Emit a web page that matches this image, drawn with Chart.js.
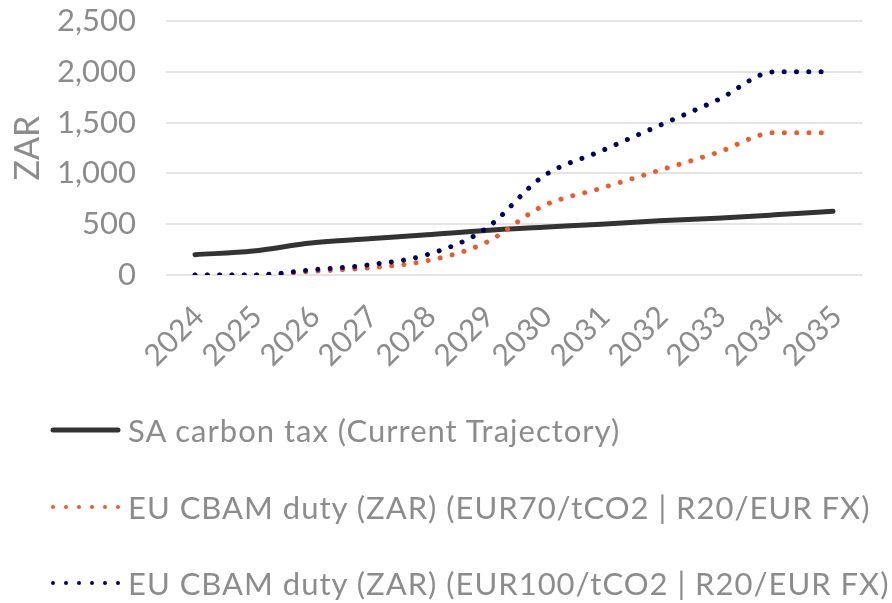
<!DOCTYPE html>
<html>
<head>
<meta charset="utf-8">
<script src="https://cdn.jsdelivr.net/npm/chart.js@4.4.1/dist/chart.umd.min.js"></script>
<style>
  html, body { margin: 0; padding: 0; background: #ffffff; width: 892px; height: 603px; overflow: hidden; }
  #plot { position: absolute; left: 0; top: 0; width: 892px; height: 385px; }
  #legend { position: absolute; left: 0; top: 0; width: 892px; height: 603px; pointer-events: none; }
  .item { position: absolute; left: 50px; height: 40px; display: flex; align-items: center; white-space: nowrap;
          font-family: Lato, "Noto Sans", sans-serif; font-size: 31px; letter-spacing: 1px; color: #8c8c8c; }
  .item svg { width: 72px; height: 12px; margin-right: 6px; flex: none; }
</style>
</head>
<body>
<div id="plot"><canvas id="chart"></canvas></div>
<div id="legend"></div>
<script>
// Categories and series
const years = ['2024', '2025', '2026', '2027', '2028', '2029', '2030', '2031', '2032', '2033', '2034', '2035'];
const saCarbonTax = [200, 236, 315, 356, 395, 438, 470, 500, 533, 559, 592, 628];
const cbamEur70 = [0, 0, 35, 70, 140, 315, 679, 854, 1029, 1204, 1400, 1400];
const cbamEur100 = [0, 0, 50, 100, 200, 450, 970, 1220, 1470, 1720, 2000, 2000];
const seriesNames = [
  'SA carbon tax (Current Trajectory)',
  'EU CBAM duty (ZAR) (EUR70/tCO2 | R20/EUR FX)',
  'EU CBAM duty (ZAR) (EUR100/tCO2 | R20/EUR FX)'
];
const yTicks = [0, 500, 1000, 1500, 2000, 2500];

const textGrey = '#8c8c8c';
const fontFamily = 'Lato, "Noto Sans", sans-serif';

const datasets = [
  { label: seriesNames[0], data: saCarbonTax, borderColor: '#333333', borderWidth: 5, borderDash: [] },
  { label: seriesNames[1], data: cbamEur70, borderColor: '#f05a28', borderWidth: 5, borderDash: [0.01, 12.3] },
  { label: seriesNames[2], data: cbamEur100, borderColor: '#000066', borderWidth: 5, borderDash: [0.01, 12.3] }
].map(d => Object.assign(d, {
  fill: false, pointRadius: 0, pointHoverRadius: 0,
  cubicInterpolationMode: 'monotone',
  borderCapStyle: 'round', borderJoinStyle: 'round'
}));
// draw the solid line beneath the dotted ones
datasets[0].order = 3; datasets[1].order = 2; datasets[2].order = 1;

const chart = new Chart(document.getElementById('chart'), {
  type: 'line',
  data: { labels: years, datasets },
  options: {
    responsive: true,
    maintainAspectRatio: false,
    animation: false,
    layout: { padding: { top: 21, right: 30, bottom: 0, left: 0 } },
    plugins: { legend: { display: false }, tooltip: { enabled: false } },
    scales: {
      x: {
        offset: true,
        grid: { display: false, drawTicks: false },
        border: { display: false },
        ticks: {
          color: textGrey, font: { family: fontFamily, size: 30 },
          minRotation: 45, maxRotation: 45, autoSkip: false, padding: 24, labelOffset: 4
        },
        afterFit: s => { s.height = 110; }
      },
      y: {
        min: 0, max: 2500,
        afterBuildTicks: s => { s.ticks = yTicks.map(v => ({ value: v })); },
        grid: { color: '#e4e4e4', lineWidth: 2, drawTicks: true, tickLength: 28, tickColor: 'rgba(0,0,0,0)' },
        border: { display: false },
        ticks: {
          color: textGrey, font: { family: fontFamily, size: 31 }, padding: 2,
          callback: v => v.toLocaleString('en-US')
        },
        title: {
          display: true, text: 'ZAR', color: textGrey,
          font: { family: fontFamily, size: 34 }, padding: { top: 8, bottom: 0 }
        },
        afterFit: s => { s.width = 166; }
      }
    }
  }
});

// Legend built from the chart's datasets, one entry per row
const rowCentres = [430, 507, 583];
const legend = document.getElementById('legend');
chart.data.datasets.forEach((ds, i) => {
  const item = document.createElement('div');
  item.className = 'item';
  item.style.top = (rowCentres[i] - 20) + 'px';
  const dotted = ds.borderDash && ds.borderDash.length;
  const ns = 'http://www.w3.org/2000/svg';
  const svg = document.createElementNS(ns, 'svg');
  svg.setAttribute('viewBox', '0 0 72 12');
  const line = document.createElementNS(ns, 'line');
  line.setAttribute('x1', 3);
  line.setAttribute('x2', dotted ? 69 : 68);
  line.setAttribute('y1', 6); line.setAttribute('y2', 6);
  line.setAttribute('stroke', ds.borderColor);
  line.setAttribute('stroke-width', dotted ? 4 : 5);
  line.setAttribute('stroke-linecap', 'round');
  if (dotted) line.setAttribute('stroke-dasharray', '0 13');
  svg.appendChild(line);
  item.appendChild(svg);
  const span = document.createElement('span');
  span.textContent = ds.label;
  item.appendChild(span);
  legend.appendChild(item);
});
</script>
</body>
</html>
